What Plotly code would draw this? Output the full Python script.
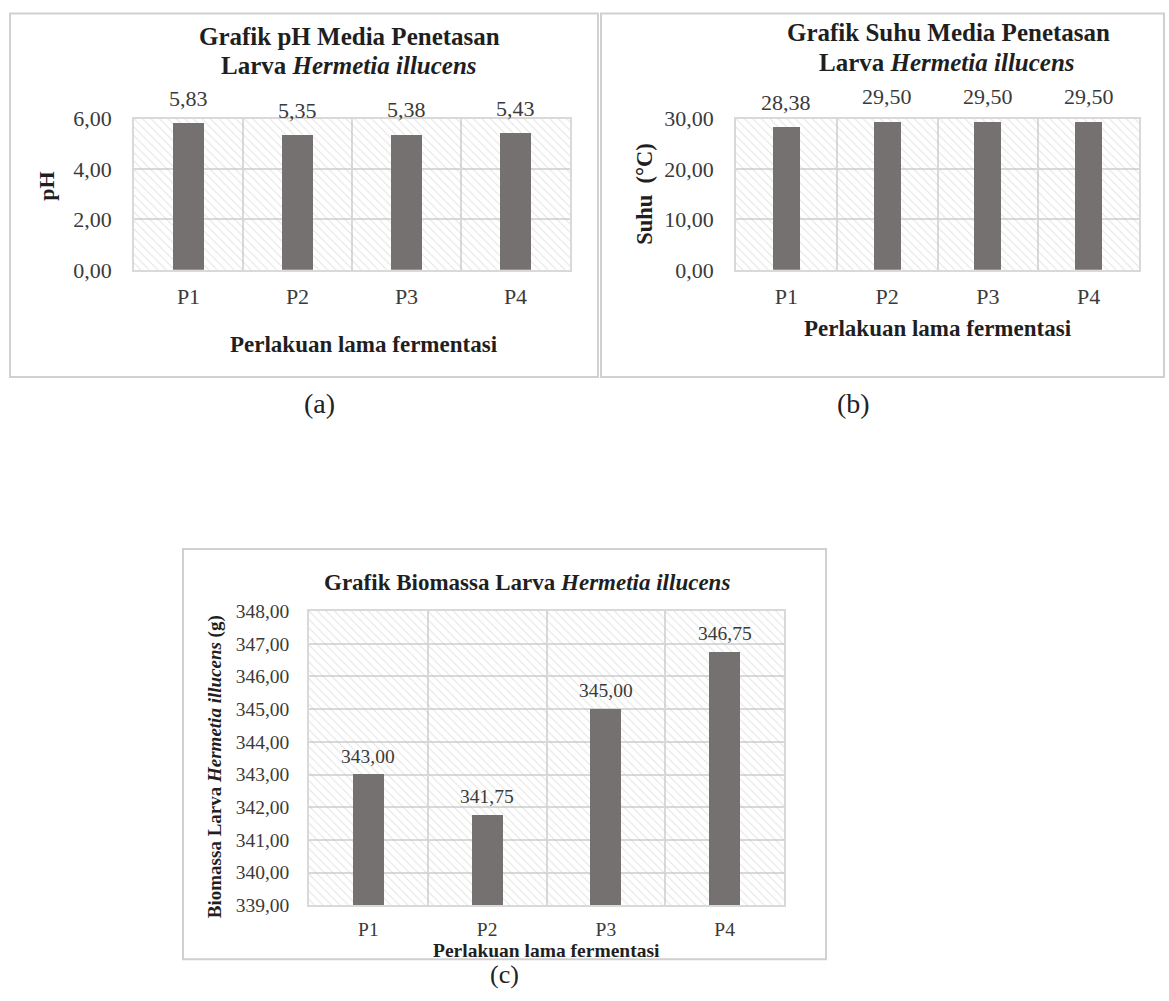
import plotly.graph_objects as go

# ---------------- data ----------------
categories = ["P1", "P2", "P3", "P4"]
ph_values = [5.83, 5.35, 5.38, 5.43]
suhu_values = [28.38, 29.50, 29.50, 29.50]
biomassa_values = [343.00, 341.75, 345.00, 346.75]

ph_range = [0, 6]
suhu_range = [0, 30]
biomassa_range = [339, 348]
ph_dtick = 2
suhu_dtick = 10
biomassa_dtick = 1

# ---------------- layout helpers ----------------
W, H = 1169, 1001
# vertical calibration between page pixels and the photographed picture
CAL_S, CAL_B = 0.9744, 12.3
FONT = "Liberation Serif"
BAR_COLOR = "#767171"
GRID = "#d9d9d9"
TXT = "#3a3a3a"
TITLE_TXT = "#1f1f1f"


def fx(px):
    return px / W


def fy(py):
    r = (py - CAL_B) / CAL_S
    return 1 - r / H


def fmt(v):
    return f"{v:.2f}".replace(".", ",")


panels = [
    dict(values=ph_values, rng=ph_range, dtick=ph_dtick, bw=0.285,
         xdom=[fx(134), fx(570)], ydom=[fy(270), fy(119)],
         tickfont=22, xstand=6, ystand=16, lshift=10),
    dict(values=suhu_values, rng=suhu_range, dtick=suhu_dtick, bw=0.27,
         xdom=[fx(736), fx(1139)], ydom=[fy(270), fy(119)],
         tickfont=22, xstand=6, ystand=16, lshift=10),
    dict(values=biomassa_values, rng=biomassa_range, dtick=biomassa_dtick, bw=0.26,
         xdom=[fx(309), fx(784)], ydom=[fy(905), fy(611)],
         tickfont=19.5, xstand=6, ystand=14, lshift=6),
]

fig = go.Figure()
annotations = []

for i, p in enumerate(panels, start=1):
    xa = "x" if i == 1 else f"x{i}"
    ya = "y" if i == 1 else f"y{i}"
    lo, hi = p["rng"]
    # hatched plot-area background
    fig.add_trace(go.Bar(
        x=categories, y=[hi - lo] * len(categories), base=lo, width=1,
        marker=dict(color="rgba(0,0,0,0)",
                    pattern=dict(shape="\\", fgcolor="#c4c4c4", size=6, solidity=0.16),
                    line=dict(width=0)),
        hoverinfo="skip", showlegend=False, xaxis=xa, yaxis=ya))
    # data bars
    fig.add_trace(go.Bar(
        x=categories, y=p["values"], width=p["bw"],
        marker=dict(color=BAR_COLOR, line=dict(width=0)),
        showlegend=False, xaxis=xa, yaxis=ya))
    # value labels
    for c, v in zip(categories, p["values"]):
        annotations.append(dict(
            x=c, y=v, xref=xa, yref=ya, text=fmt(v), showarrow=False,
            yanchor="bottom", yshift=p["lshift"],
            font=dict(family=FONT, size=p["tickfont"], color=TXT)))

    axis_x = dict(domain=p["xdom"], type="category", range=[-0.5, 3.5],
                  showgrid=True, gridcolor=GRID, gridwidth=1.5, tickson="boundaries",
                  showline=True, linecolor=GRID, linewidth=1.5, mirror=True,
                  ticks="", ticklabelstandoff=p["xstand"], anchor=ya,
                  tickfont=dict(family=FONT, size=p["tickfont"], color=TXT),
                  fixedrange=True)
    axis_y = dict(domain=p["ydom"], range=[lo, hi], dtick=p["dtick"], tick0=lo,
                  tickformat=".2f", showgrid=True, gridcolor=GRID, gridwidth=1.5,
                  showline=True, linecolor=GRID, linewidth=1.5, mirror=True,
                  zeroline=False, ticks="", ticklabelstandoff=p["ystand"], anchor=xa,
                  tickfont=dict(family=FONT, size=p["tickfont"], color=TXT),
                  fixedrange=True)
    key = "" if i == 1 else str(i)
    fig.update_layout(**{f"xaxis{key}": axis_x, f"yaxis{key}": axis_y})


def note(x, y, text, size, bold=False, angle=0, color=TITLE_TXT, yanchor="middle",
         yshift=0):
    annotations.append(dict(
        x=fx(x), y=min(max(fy(y), 0), 1), xref="paper", yref="paper",
        text=f"<b>{text}</b>" if bold else text, showarrow=False,
        xanchor="center", yanchor=yanchor, textangle=angle, yshift=yshift,
        font=dict(family=FONT, size=size, color=color)))


# chart titles
note(349, 37, "Grafik pH Media Penetasan", 25, bold=True)
note(349, 66, "Larva <i>Hermetia illucens</i>", 25, bold=True)
note(948, 33, "Grafik Suhu Media Penetasan", 25, bold=True)
note(947, 63, "Larva <i>Hermetia illucens</i>", 25, bold=True)
note(527, 582, "Grafik Biomassa Larva <i>Hermetia illucens</i>", 23, bold=True)

# axis titles
note(364, 345, "Perlakuan lama fermentasi", 23, bold=True)
note(938, 329, "Perlakuan lama fermentasi", 23, bold=True)
note(546, 950, "Perlakuan lama fermentasi", 19.5, bold=True)
note(47, 187, "pH", 22, bold=True, angle=-90)
note(645, 194, "Suhu  (°C)", 22.5, bold=True, angle=-90)
note(215, 766, "Biomassa Larva <i>Hermetia illucens</i> (g)", 19, bold=True, angle=-90)

# captions
note(319, 404, "(a)", 28, color="#222222")
note(853, 404, "(b)", 28, color="#222222")
note(504, 1010, "(c)", 26, color="#222222", yanchor="bottom", yshift=-3)

# frames around each chart
frames = [(10, 10, 598, 377), (601, 10, 1164, 377), (183, 549, 826, 959)]
shapes = [dict(type="rect", xref="paper", yref="paper",
               x0=fx(a), y0=fy(d), x1=fx(c), y1=min(fy(b), 1 - 1.5 / H),
               line=dict(color="#d0d0d0", width=2), fillcolor="rgba(0,0,0,0)",
               layer="below")
          for a, b, c, d in frames]

fig.update_layout(
    width=W, height=H, autosize=False,
    margin=dict(l=0, r=0, t=0, b=0),
    paper_bgcolor="white", plot_bgcolor="white",
    barmode="overlay", bargap=0,
    separators=",.",
    showlegend=False,
    annotations=annotations, shapes=shapes,
    font=dict(family=FONT, color=TXT),
)

page_style = ("document.documentElement.style.margin='0';"
              "document.body.style.margin='0';"
              "document.body.style.overflow='hidden';"
              "document.documentElement.style.overflow='hidden';")

fig.write_html("out.html", config={"displayModeBar": False}, post_script=page_style)
